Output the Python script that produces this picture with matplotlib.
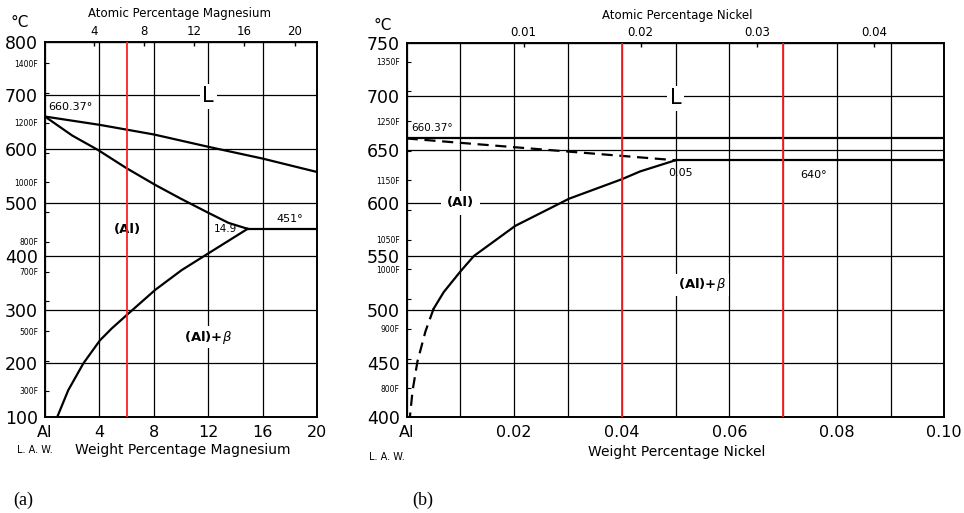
import numpy as np
import matplotlib
matplotlib.use('Agg')
import matplotlib.pyplot as plt

plt.rcParams['font.family'] = ['DejaVu Sans']

W, H = 964, 513

# ---- Al-Mg (a) ----
mg_liq_wt = [0, 4, 8, 12, 16, 20]
mg_liq_T = [660.37, 645, 627, 604, 582, 557]
mg_sol_wt = [0, 2, 3.9, 6, 8.1, 10, 12, 13.5, 14.9]
mg_sol_T = [660.37, 625, 598, 564, 533, 507, 481, 462, 451]
mg_eut_wt = [14.9, 20]
mg_eut_T = [451, 451]
mg_solv_wt = [14.9, 12.0, 10.05, 8.1, 6.0, 4.9, 4.04, 2.82, 1.71, 0.9]
mg_solv_T = [451, 405, 374, 337, 290, 265, 243, 200, 150, 100]
mg_red = [6.0]
mg_xticks = [0, 4, 8, 12, 16, 20]
mg_xlabels = ['Al', '4', '8', '12', '16', '20']
mg_yticks = [100, 200, 300, 400, 500, 600, 700, 800]
mg_at_ticks = [4, 8, 12, 16, 20]
mg_F = [300, 400, 500, 600, 700, 800, 900, 1000, 1100, 1200, 1300, 1400]
mg_F_lab = [300, 500, 700, 800, 1000, 1200, 1400]

# ---- Al-Ni (b) ----
ni_liq_wt = [0, 0.10]
ni_liq_T = [660.37, 660.37]
ni_dash_wt = [0, 0.05]
ni_dash_T = [660.37, 640]
ni_eut_wt = [0.05, 0.10]
ni_eut_T = [640, 640]
ni_solv_wt = [0.05, 0.0434, 0.0401, 0.0302, 0.0202, 0.0125, 0.0101, 0.0069, 0.005]
ni_solv_T = [640, 629.5, 622.4, 604, 578.6, 550.4, 536.6, 516.7, 501]
ni_solv_d_wt = [0.005, 0.0035, 0.002, 0.0011, 0.0006]
ni_solv_d_T = [501, 480, 451.7, 424.7, 400]
ni_red = [0.04, 0.07]
ni_xticks = [0, 0.01, 0.02, 0.03, 0.04, 0.05, 0.06, 0.07, 0.08, 0.09, 0.10]
ni_xlabels = ['Al', '', '0.02', '', '0.04', '', '0.06', '', '0.08', '', '0.10']
ni_yticks = [400, 450, 500, 550, 600, 650, 700, 750]
ni_at_ticks = [0.01, 0.02, 0.03, 0.04]
ni_F = [800, 850, 900, 950, 1000, 1050, 1100, 1150, 1200, 1250, 1300, 1350]
ni_F_lab = [800, 900, 1000, 1050, 1150, 1250, 1350]


def f2c(f):
    return (np.asarray(f, dtype=float) - 32) * 5 / 9


def wt_to_at(w, m_solute, m_al=26.98):
    w = np.asarray(w, dtype=float)
    a = w / m_solute
    b = (100 - w) / m_al
    return 100 * a / (a + b)


def at_to_wt(x, m_solute, m_al=26.98):
    x = np.asarray(x, dtype=float)
    a = x * m_solute
    b = (100 - x) * m_al
    return 100 * a / (a + b)


def fx(x):
    return x / W


def fy(y):
    return 1 - y / H


fig = plt.figure(figsize=(W / 100, H / 100), dpi=100)

ax1 = fig.add_axes([fx(45), fy(417), 272 / W, (417 - 41.7) / H])
ax2 = fig.add_axes([fx(406.7), fy(416.7), (944.3 - 406.7) / W, (416.7 - 42.7) / H])


def style(ax, xlim, ylim, xticks, xlabels, yticks, F, F_lab):
    ax.set_xlim(*xlim)
    ax.set_ylim(*ylim)
    ax.set_xticks(xticks)
    ax.set_xticklabels(xlabels, fontsize=11.5)
    ax.set_yticks(yticks)
    ax.set_yticklabels([str(t) for t in yticks], fontsize=12.5)
    ax.set_yticks(f2c(F), [f'{f}F' if f in F_lab else '' for f in F], minor=True)
    ax.tick_params(axis='y', which='minor', direction='in', length=3, width=0.8,
                   labelsize=5.5, pad=5)
    ax.tick_params(axis='both', which='major', length=0, pad=5)
    ax.tick_params(axis='x', which='major', pad=6)
    ax.grid(True, which='major', color='black', lw=0.9)
    for s in ax.spines.values():
        s.set_linewidth(1.4)


style(ax1, (0, 20), (100, 800), mg_xticks, mg_xlabels, mg_yticks, mg_F, mg_F_lab)
style(ax2, (0, 0.10), (400, 750), ni_xticks, ni_xlabels, ni_yticks, ni_F, ni_F_lab)

# top atomic-percentage axes
sec1 = ax1.secondary_xaxis('top', functions=(lambda w: wt_to_at(w, 24.305),
                                             lambda a: at_to_wt(a, 24.305)))
sec1.set_xticks(mg_at_ticks)
sec1.set_xticklabels([str(t) for t in mg_at_ticks], fontsize=8.5)
sec1.tick_params(direction='in', length=3, width=1, pad=3)

sec2 = ax2.secondary_xaxis('top', functions=(lambda w: wt_to_at(w, 58.69),
                                             lambda a: at_to_wt(a, 58.69)))
sec2.set_xticks(ni_at_ticks)
sec2.set_xticklabels([f'{t:.2f}' for t in ni_at_ticks], fontsize=8.5)
sec2.tick_params(direction='in', length=3, width=1, pad=3)

# phase boundaries (a)
lw = 1.6
ax1.plot(mg_liq_wt, mg_liq_T, color='black', lw=lw, zorder=3)
ax1.plot(mg_sol_wt, mg_sol_T, color='black', lw=lw, zorder=3)
ax1.plot(mg_eut_wt, mg_eut_T, color='black', lw=lw, zorder=3)
ax1.plot(mg_solv_wt, mg_solv_T, color='black', lw=lw, zorder=3)
for r in mg_red:
    ax1.axvline(r, color='#ff2020', lw=1.3, zorder=5)

# phase boundaries (b)
ax2.plot(ni_liq_wt, ni_liq_T, color='black', lw=lw, zorder=3)
ax2.plot(ni_dash_wt, ni_dash_T, color='black', lw=lw, ls=(0, (5, 3)), zorder=3)
ax2.plot(ni_eut_wt, ni_eut_T, color='black', lw=lw, zorder=3)
ax2.plot(ni_solv_wt, ni_solv_T, color='black', lw=lw, zorder=3)
ax2.plot(ni_solv_d_wt, ni_solv_d_T, color='black', lw=lw, ls=(0, (5, 3)), zorder=3)
for r in ni_red:
    ax2.axvline(r, color='#ff2020', lw=1.3, zorder=5)

white = dict(facecolor='white', edgecolor='none', pad=2)

# labels inside (a)
ax1.text(1.84, 678, '660.37°', fontsize=8, ha='center', va='center')
ax1.text(12, 698, 'L', fontsize=15, ha='center', va='center', bbox=white, zorder=4)
ax1.text(6.03, 449, '(Al)', fontsize=9.5, ha='center', va='center',
         fontweight='bold', zorder=4)
ax1.text(14.1, 450.6, '14.9', fontsize=7.5, ha='right', va='center', zorder=4)
ax1.text(18.0, 469, '451°', fontsize=8, ha='center', va='center')
ax1.text(12, 249, '(Al)+$\\beta$', fontsize=9.5, ha='center', va='center',
         fontweight='bold', bbox=white, zorder=4)

# labels inside (b)
ax2.text(0.0048, 670.5, '660.37°', fontsize=7.5, ha='center', va='center')
ax2.text(0.05, 698, 'L', fontsize=15, ha='center', va='center', bbox=white, zorder=4)
ax2.text(0.01, 600, '(Al)', fontsize=9.5, ha='center', va='center', fontweight='bold',
         bbox=dict(facecolor='white', edgecolor='none', pad=4), zorder=4)
ax2.text(0.0509, 628.2, '0.05', fontsize=8, ha='center', va='center')
ax2.text(0.0757, 626.4, '640°', fontsize=8, ha='center', va='center')
ax2.text(0.0549, 523.3, '(Al)+$\\beta$', fontsize=9.5, ha='center', va='center',
         fontweight='bold', bbox=white, zorder=4)

# outer labels
fig.text(fx(20), fy(23), '°C', fontsize=11, ha='center', va='center')
fig.text(fx(383), fy(25), '°C', fontsize=11, ha='center', va='center')
fig.text(fx(180), fy(13), 'Atomic Percentage Magnesium', fontsize=8.5, ha='center', va='center')
fig.text(fx(677), fy(16), 'Atomic Percentage Nickel', fontsize=8.5, ha='center', va='center')
fig.text(fx(35), fy(450), 'L. A. W.', fontsize=7, ha='center', va='center')
fig.text(fx(387), fy(457), 'L. A. W.', fontsize=7, ha='center', va='center')
fig.text(fx(183), fy(450), 'Weight Percentage Magnesium', fontsize=10, ha='center', va='center')
fig.text(fx(677), fy(452), 'Weight Percentage Nickel', fontsize=10, ha='center', va='center')
fig.text(fx(23), fy(500), '(a)', fontsize=13, ha='center', va='center', family='Liberation Serif')
fig.text(fx(423), fy(500), '(b)', fontsize=13, ha='center', va='center', family='Liberation Serif')

fig.savefig('out.png', dpi=100, facecolor='white')
